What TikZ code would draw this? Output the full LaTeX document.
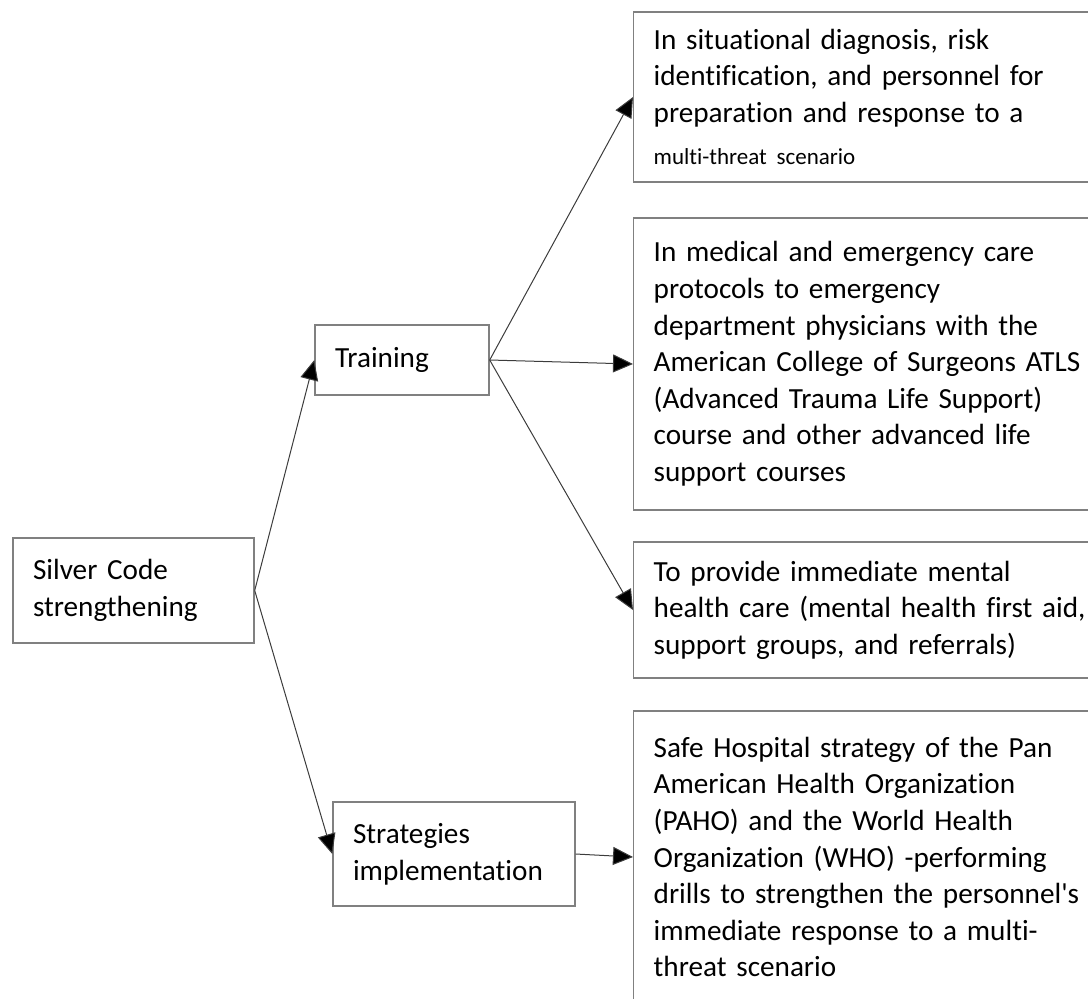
\documentclass[tikz,border=0pt]{standalone}
\usepackage{fontspec}
\setmainfont{Carlito}[Ligatures={NoCommon}]
\usepackage{tikz}
\usetikzlibrary{arrows.meta,positioning}
\definecolor{framegrey}{RGB}{128,128,128}
\definecolor{linegrey}{RGB}{60,60,60}
\tikzset{
  blk/.style={draw=framegrey,line width=0.7pt,fill=white,align=left,
              inner xsep=10pt,inner ysep=0pt,
              font=\fontsize{14.6}{18.3}\selectfont},
  hub/.style={blk,text width=#1},
  item/.style={blk,text width=250pt,minimum height=#1},
  flow/.style={-{Triangle[length=10pt,width=9pt,fill=black]},line width=0.5pt,draw=linegrey},
}

\begin{document}
\begin{tikzpicture}[x=0.5pt,y=-0.5pt]
  \useasboundingbox (0,0) rectangle (1088,998);

  % left column
  \node[hub=100.5pt,minimum height=52.5pt] (silver) at (133.5,590.5)
    {Silver Code\\strengthening};
  \node[hub=67pt,minimum height=35pt]      (train)  at (402,360)
    {Training};
  \node[hub=101pt,minimum height=52pt]     (strat)  at (454,854)
    {Strategies\\implementation};

  % right column (boxes run past the right edge)
  \node[item=85pt,anchor=west]  (diag)   at (633,97)
    {In situational diagnosis, risk\\identification, and personnel for\\
     preparation and response to a\\[3pt]\mbox{\fontsize{11.5}{14}\selectfont multi-threat scenario}};
  \node[item=146pt,anchor=west] (care)   at (633,364)
    {In medical and emergency care\\protocols to emergency\\
     department physicians with the\\American College of Surgeons ATLS\\
     (Advanced Trauma Life Support)\\course and other advanced life\\
     support courses};
  \node[item=68pt,anchor=west]  (mental) at (633,610)
    {To provide immediate mental\\health care (mental health first aid,\\
     support groups, and referrals)};
  \node[item=146pt,anchor=west] (safe)   at (633,857)
    {Safe Hospital strategy of the Pan\\American Health Organization\\
     (PAHO) and the World Health\\Organization (WHO) -performing\\
     drills to strengthen the personnel\textquotesingle s\\immediate response to a multi-\\
     threat scenario};

  \draw[flow] (silver.east) -- (train.west);
  \draw[flow] (silver.east) -- (strat.west);

  \draw[flow] (train.east) -- (diag.west);
  \draw[flow] (train.east) -- (care.west);
  \draw[flow] (train.east) -- (mental.west);

  \draw[flow] (strat.east) -- (safe.west);
\end{tikzpicture}
\end{document}
